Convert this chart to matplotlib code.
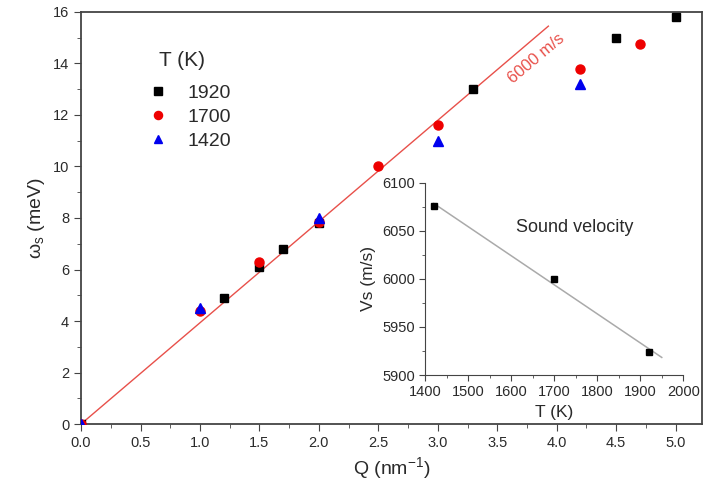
import numpy as np
import matplotlib
matplotlib.use("Agg")
import matplotlib.pyplot as plt
from matplotlib.ticker import MultipleLocator

plt.rcParams['font.family'] = ['Liberation Sans', 'DejaVu Sans']
plt.rcParams['mathtext.fontset'] = 'custom'
plt.rcParams['mathtext.rm'] = 'Liberation Sans'
plt.rcParams['mathtext.it'] = 'Liberation Sans'

# dispersion data, omega_s (meV) vs Q (nm^-1)
q_1920 = [0.0, 1.2, 1.5, 1.7, 2.0, 3.3, 4.5, 5.0]
w_1920 = [0.0, 4.9, 6.1, 6.8, 7.8, 13.0, 15.0, 15.8]
q_1700 = [0.0, 1.0, 1.5, 2.0, 2.5, 3.0, 4.2, 4.7]
w_1700 = [0.0, 4.4, 6.3, 7.85, 10.0, 11.6, 13.8, 14.75]
q_1420 = [0.0, 1.0, 2.0, 3.0, 4.2]
w_1420 = [0.0, 4.5, 8.0, 11.0, 13.2]

# 6000 m/s line (hbar * v)
q_line = [0.0, 3.93]
w_line = [0.0, 15.45]

# inset: sound velocity vs T
T_inset = [1420, 1700, 1920]
vs_inset = [6076, 6000, 5924]
T_fit = [1420, 1950]

fig = plt.figure(figsize=(7.11, 4.95), dpi=100)
ax = fig.add_axes([0.114, 0.1434, 0.873, 0.8324])

txtc = "#2a2a2a"
ax.plot(q_line, w_line, color="#e8504a", lw=1.0, zorder=1)
ax.plot(q_1920, w_1920, "s", color="black", ms=6, ls="none", label="1920", zorder=3)
ax.plot(q_1700, w_1700, "o", color="#ee0000", ms=6.5, ls="none", label="1700", zorder=3)
ax.plot(q_1420, w_1420, "^", color="#0000ee", ms=7, ls="none", label="1420", zorder=3)

ax.set_xlim(0, 5.22)
ax.set_ylim(0, 16)
ax.xaxis.set_major_locator(MultipleLocator(0.5))
ax.xaxis.set_minor_locator(MultipleLocator(0.25))
ax.yaxis.set_major_locator(MultipleLocator(2))
ax.yaxis.set_minor_locator(MultipleLocator(1))
ax.tick_params(which="both", direction="out", top=False, right=False,
               labelsize=10.5, labelcolor=txtc, color="#444444")
ax.tick_params(which="major", length=5)
ax.tick_params(which="minor", length=3)
for s in ax.spines.values():
    s.set_color("#444444")
    s.set_linewidth(1.3)

ax.set_xlabel(r"Q (nm$^{-1}$)", fontsize=14, color=txtc)
ax.set_ylabel(r"$\omega_{\rm s}$ (meV)", fontsize=14, color=txtc)

ax.text(3.83, 14.2, "6000 m/s", color="#e8504a", fontsize=12, rotation=40,
        ha="center", va="center")

# legend with a separate title text
ax.text(0.163, 0.883, "T (K)", transform=ax.transAxes, fontsize=15,
        color=txtc, ha="center", va="center")
leg = ax.legend(loc="upper left", bbox_to_anchor=(0.065, 0.867), frameon=False,
                fontsize=14, handletextpad=0.5, labelspacing=0.32,
                markerscale=0.9)
for t in leg.get_texts():
    t.set_color(txtc)

# inset
ins = fig.add_axes([0.598, 0.2424, 0.363, 0.388])
slope, icpt = np.polyfit(T_inset, vs_inset, 1)
ins.plot(T_fit, [slope * t + icpt for t in T_fit], color="#aaaaaa", lw=1.1)
ins.plot(T_inset, vs_inset, "s", color="black", ms=5)
ins.set_xlim(1400, 2000)
ins.set_ylim(5900, 6100)
ins.xaxis.set_major_locator(MultipleLocator(100))
ins.xaxis.set_minor_locator(MultipleLocator(50))
ins.yaxis.set_major_locator(MultipleLocator(50))
ins.yaxis.set_minor_locator(MultipleLocator(25))
ins.spines["top"].set_visible(False)
ins.spines["right"].set_visible(False)
for s in ["left", "bottom"]:
    ins.spines[s].set_color("#444444")
ins.patch.set_alpha(0)
ins.tick_params(which="both", direction="out", labelsize=10.5, labelcolor=txtc, color="#444444")
ins.tick_params(which="major", length=4)
ins.tick_params(which="minor", length=2)
ins.set_xlabel("T (K)", fontsize=12.5, color=txtc)
ins.set_ylabel("Vs (m/s)", fontsize=12.5, color=txtc)
ins.text(0.58, 0.77, "Sound velocity", transform=ins.transAxes, fontsize=13,
         color=txtc, ha="center", va="center")

fig.savefig("out.png", dpi=100)
